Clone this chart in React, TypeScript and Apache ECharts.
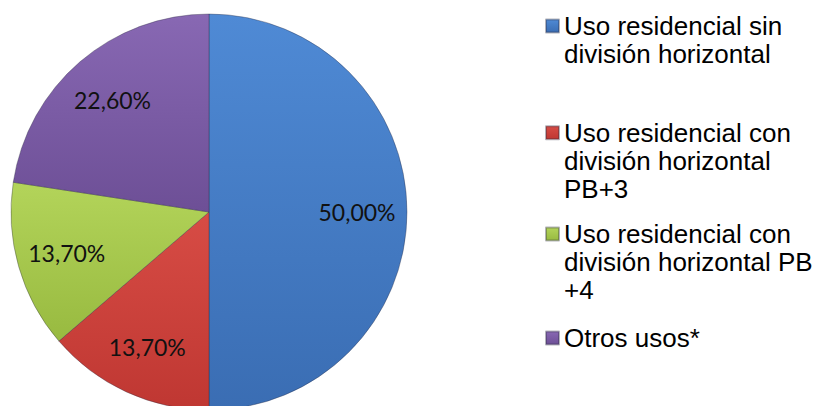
import React, { useEffect, useRef } from "react";
import * as echarts from "echarts";

// Share of building use
const categories = [
  "Uso residencial sin división horizontal",
  "Uso residencial con división horizontal PB+3",
  "Uso residencial con división horizontal PB+4",
  "Otros usos*",
];
const shares = [50.0, 13.7, 13.7, 22.6];
// Legend texts as they wrap in the legend column
const legendLines = [
  "Uso residencial sin\ndivisión horizontal",
  "Uso residencial con\ndivisión horizontal\nPB+3",
  "Uso residencial con\ndivisión horizontal PB\n+4",
  "Otros usos*",
];
// Light / dark shades per slice
const lightColors = ["#4f8ad5", "#d74c45", "#b3d45a", "#8868b3"];
const darkColors = ["#3a6db3", "#bf3732", "#98ba40", "#6d4f96"];

const LINE_H = 28;
// Vertical centre of the first line of each legend entry
const legendFirstLineY = [26, 132.7, 234, 338];

const fmtPct = (v: number) => v.toFixed(2).replace(".", ",") + "%";

export default function App() {
  const ref = useRef<HTMLDivElement>(null);

  useEffect(() => {
    if (!ref.current) return;
    const chart = echarts.init(ref.current, undefined, { renderer: "svg" });

    const sliceData = categories.map((name, i) => ({
      name,
      value: shares[i],
      itemStyle: {
        color: new echarts.graphic.LinearGradient(0, 0, 0, 1, [
          { offset: 0, color: lightColors[i] },
          { offset: 1, color: darkColors[i] },
        ]),
      },
    }));

    // One legend block per entry; leading blank lines keep the marker
    // level with the first text line (legend text is centred on the marker).
    const legends = categories.map((name, i) => {
      const n = legendLines[i].split("\n").length;
      const text = "\n".repeat(n - 1) + legendLines[i];
      return {
        data: [name],
        orient: "vertical",
        left: 545,
        top: legendFirstLineY[i] - ((2 * n - 1) * LINE_H) / 2,
        padding: 0,
        itemWidth: 13,
        itemHeight: 13,
        icon: "rect",
        selectedMode: false,
        formatter: () => text,
        textStyle: {
          fontFamily: "Liberation Sans, Arial, sans-serif",
          fontSize: 26,
          lineHeight: LINE_H,
          color: "#000",
        },
      };
    });

    chart.setOption({
      animation: false,
      backgroundColor: "#fff",
      legend: legends,
      series: [
        {
          type: "pie",
          center: [209, 212],
          radius: 198,
          startAngle: 90,
          clockwise: true,
          silent: true,
          label: { show: false },
          labelLine: { show: false },
          itemStyle: { borderColor: "rgba(40,40,60,0.35)", borderWidth: 1 },
          data: sliceData,
        },
        {
          // transparent ring carrying the percentage labels further out
          type: "pie",
          center: [209, 212],
          radius: [92, 198],
          startAngle: 90,
          clockwise: true,
          silent: true,
          legendHoverLink: false,
          avoidLabelOverlap: false,
          itemStyle: { color: "rgba(0,0,0,0)" },
          label: {
            show: true,
            position: "inside",
            formatter: (p: any) => fmtPct(p.value),
            fontFamily: "Lato, sans-serif",
            fontSize: 23,
            color: "#111",
          },
          labelLine: { show: false },
          data: categories.map((name, i) => ({ name, value: shares[i] })),
        },
      ],
    });

    return () => chart.dispose();
  }, []);

  return (
    <div
      ref={ref}
      style={{ position: "fixed", left: 0, top: 0, width: 820, height: 406 }}
    />
  );
}
